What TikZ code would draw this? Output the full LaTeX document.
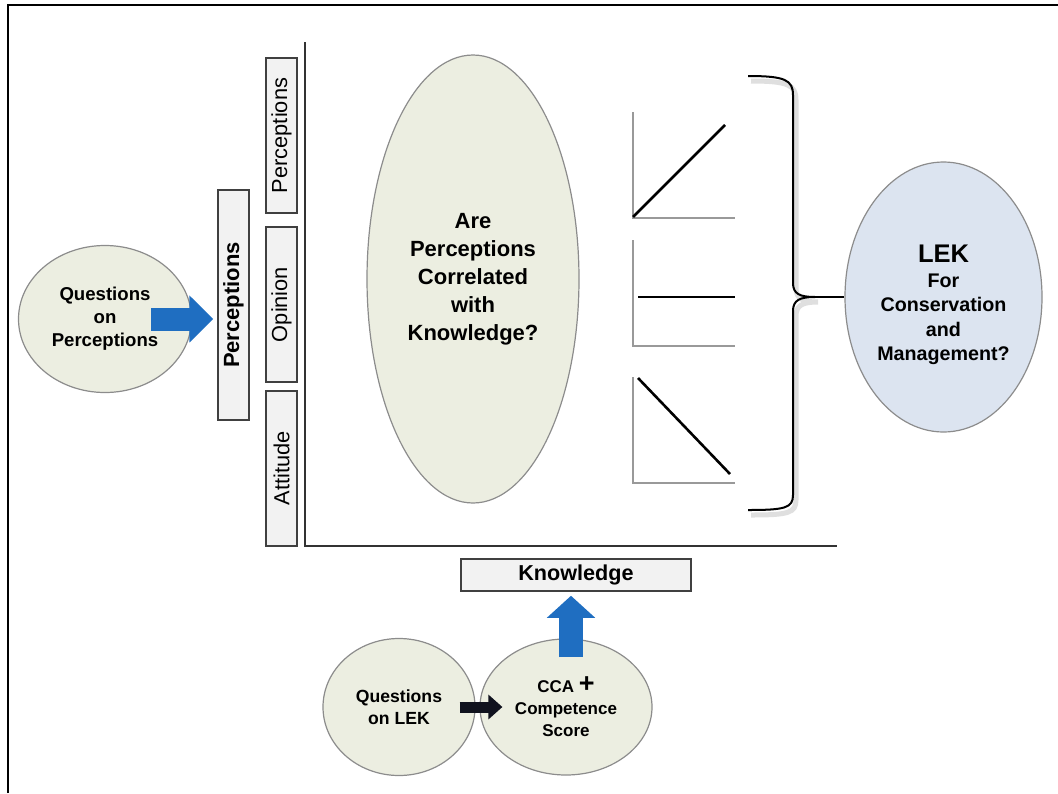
\documentclass[tikz,border=0pt]{standalone}
\usepackage{fontspec}
\setmainfont{Liberation Sans}
\usetikzlibrary{arrows.meta,shapes.geometric}

\definecolor{bubble}{HTML}{ECEEE1}
\definecolor{bubbleline}{HTML}{8C8C8C}
\definecolor{lekblue}{HTML}{DCE4F0}
\definecolor{boxgray}{HTML}{F2F2F2}
\definecolor{arrowblue}{HTML}{1F6EC1}
\definecolor{arrownavy}{HTML}{10121E}

\tikzset{
  bubble/.style={ellipse, draw=bubbleline, fill=bubble, line width=1.2pt, inner sep=0pt, align=center},
  labelbox/.style={draw=black!75, fill=boxgray, line width=1.5pt, inner sep=0pt},
  axisline/.style={draw=black!80, line width=2pt},
  graphaxis/.style={draw=black!40, line width=1.2pt},
  trend/.style={draw=black, line width=2.6pt},
  brace/.style={draw=black, line width=2pt},
  braceshadow/.style={draw=black!25, line width=5pt, opacity=0.5},
  bigarrow/.style={draw=arrowblue, line width=23pt, -{Triangle[width=46pt,length=24pt]}},
}

\begin{document}
\begin{tikzpicture}[x=1pt,y=-1pt]
    \useasboundingbox (0,0) rectangle (1058,793);
    \draw[line width=2pt] (8,793) -- (8,5) -- (1058,5);

    % axes
    \coordinate (origin) at (305,546);
    \draw[axisline] (305,42) -- (origin) -- (837,546);

    % perception side
    \node[bubble, minimum width=173pt, minimum height=147pt, font=\bfseries\fontsize{18.6}{23}\selectfont] (qperc) at (105,319) {Questions\\on\\Perceptions};
    \node[labelbox, rotate=90, minimum width=230pt, minimum height=31pt, font=\bfseries\fontsize{22}{26}\selectfont] (percbox) at (233.5,305) {Perceptions};

    \node[labelbox, rotate=90, minimum width=155pt, minimum height=31pt, font=\fontsize{21.8}{26}\selectfont] (perc) at (281.5,135.5) {Perceptions};
    \node[labelbox, rotate=90, minimum width=155pt, minimum height=31pt, font=\fontsize{21.8}{26}\selectfont] (opinion) at (281.5,304.5) {Opinion};
    \node[labelbox, rotate=90, minimum width=155pt, minimum height=31pt, font=\fontsize{21.8}{26}\selectfont] (attitude) at (281.5,468.5) {Attitude};

    \draw[bigarrow, shorten >=4pt] ([xshift=-41pt]qperc.east) -- (percbox.north |- qperc.east);

    \node[bubble, minimum width=212pt, minimum height=448pt, font=\bfseries\fontsize{22}{28}\selectfont] (question) at (473,279) {Are\\Perceptions\\Correlated\\with\\Knowledge?};

    % three trends
    \foreach \b in {218,346,483}
        \draw[graphaxis] (633,\b-106) -- (633,\b) -- (735,\b);
    \draw[trend] (633,217) -- (725,125);
    \draw[trend] (638,297) -- (735,297);
    \draw[trend] (638,378) -- (730,474);

    % outcome
    \node[ellipse, draw=bubbleline, fill=lekblue, line width=1.2pt, inner sep=0pt, align=center, minimum width=197pt, minimum height=270pt, font=\bfseries\fontsize{19.7}{24.5}\selectfont] (lek) at (943.5,297) {{\fontsize{25.5}{30}\selectfont LEK\rule{0pt}{34pt}}\\For\\Conservation\\and\\Management?};

    \draw[braceshadow, shift={(3,5)}] (748,76) .. controls (785,76) and (793,80) .. (793,95) -- (793,283) .. controls (793,294) and (800,297) .. (815,297) .. controls (800,297) and (793,300) .. (793,311) -- (793,495) .. controls (793,508) and (785,510) .. (748,510);
    \draw[brace] (748,76) .. controls (785,76) and (793,80) .. (793,95) -- (793,283) .. controls (793,294) and (800,297) .. (815,297) .. controls (800,297) and (793,300) .. (793,311) -- (793,495) .. controls (793,508) and (785,510) .. (748,510);
    \draw[brace] (815,297) -- (lek.west);

    % knowledge side
    \node[labelbox, minimum width=230pt, minimum height=32pt, font=\bfseries\fontsize{21.6}{26}\selectfont] (know) at (576,575) {Knowledge};

    \node[bubble, minimum width=152pt, minimum height=137pt, font=\bfseries\fontsize{17.6}{22}\selectfont] (qlek) at (399,707) {Questions\\on LEK};
    \node[bubble, minimum width=172pt, minimum height=136pt, font=\bfseries\fontsize{17}{22}\selectfont] (cca) at (566,707) {CCA {\fontsize{27}{22}\selectfont+}\\Competence\\Score};

    \coordinate (upstart) at (571,657);
    \draw[bigarrow, line width=24pt, -{Triangle[width=47pt,length=22pt]}] (upstart) -- ([yshift=-4pt]upstart |- know.south);
    \draw[bigarrow, draw=arrownavy, line width=11pt, -{Triangle[width=24pt,length=14pt]}] ([xshift=-16pt]qlek.east) -- ([xshift=23pt]cca.west);

\end{tikzpicture}
\end{document}
